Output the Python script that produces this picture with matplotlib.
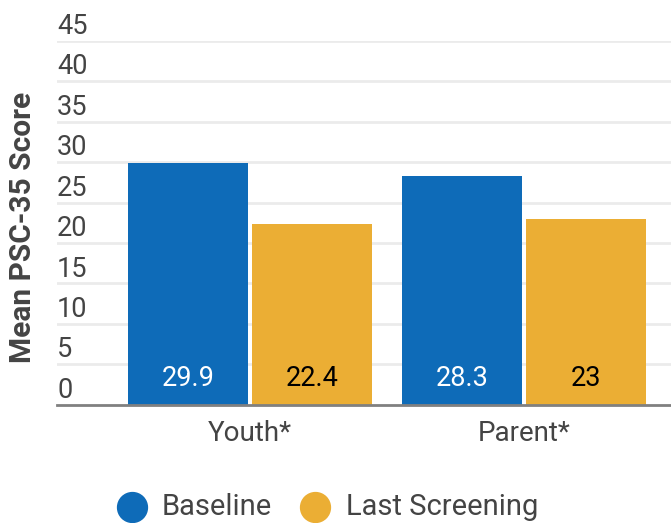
import matplotlib
matplotlib.use("Agg")
import matplotlib.pyplot as plt
import matplotlib.transforms as mtransforms
from matplotlib.lines import Line2D
import numpy as np

plt.rcParams['font.family'] = ['Roboto', 'DejaVu Sans']

# chart data
groups = ["Youth*", "Parent*"]
series_names = ["Baseline", "Last Screening"]
baseline = [29.9, 28.3]
last_screening = [22.4, 23]
yticks = [0, 5, 10, 15, 20, 25, 30, 35, 40, 45]

blue = "#0E6BB8"
gold = "#EBAE34"
text_gray = "#444444"

fig = plt.figure(figsize=(6.71, 5.23), dpi=100)
ax = fig.add_axes([57 / 671, 118.3 / 523, 614 / 671, 363.7 / 523])

x = np.arange(len(groups))
width = 0.438
offset = 0.226
colors = [blue, gold]
label_colors = ["white", "black"]

for vals, dx, col, lc in zip([baseline, last_screening], [-offset, offset],
                             colors, label_colors):
    bars = ax.bar(x + dx, vals, width=width, color=col, zorder=2)
    for b, v in zip(bars, vals):
        txt = f"{v:g}"
        ax.text(b.get_x() + b.get_width() / 2, 3.2, txt, ha="center",
                va="center", color=lc, fontsize=19.5, zorder=3)

ax.set_xlim(-0.704, 1.536)
ax.set_ylim(0, 45)

# grid lines and labels sitting above them
for t in yticks[1:]:
    ax.axhline(t, color="#EBEBEB", lw=2, zorder=1)
lab_trans = mtransforms.offset_copy(
    mtransforms.blended_transform_factory(ax.transAxes, ax.transData),
    fig=fig, x=0, y=5, units="points")
for t in yticks:
    ax.text(0, t, str(t), transform=lab_trans, ha="left", va="baseline",
            fontsize=19.5, color=text_gray, clip_on=False)

ax.set_yticks([])
ax.set_xticks(x)
ax.set_xticklabels(groups, fontsize=20, color=text_gray)
ax.tick_params(axis="x", length=0, pad=11)

for s in ["top", "right", "left"]:
    ax.spines[s].set_visible(False)
ax.spines["bottom"].set_color("#808080")
ax.spines["bottom"].set_linewidth(2)
ax.spines["bottom"].set_zorder(4)

fig.text(23 / 671, 1 - 227 / 523, "Mean PSC-35 Score", rotation=90,
         ha="center", va="center", fontsize=21.5, fontweight="bold",
         color=text_gray)

# legend along the bottom edge
legend_y = 1 - 507 / 523
marker_x = [132 / 671, 315 / 671]
text_x = [162 / 671, 346 / 671]
for name, col, mx, tx in zip(series_names, colors, marker_x, text_x):
    fig.add_artist(Line2D([mx], [legend_y], marker="o", markersize=21.5,
                          markerfacecolor=col, markeredgecolor=col,
                          transform=fig.transFigure, linestyle="none"))
    fig.text(tx, legend_y, name, ha="left", va="center", fontsize=21,
             color=text_gray)

fig.savefig("out.png", dpi=100)
